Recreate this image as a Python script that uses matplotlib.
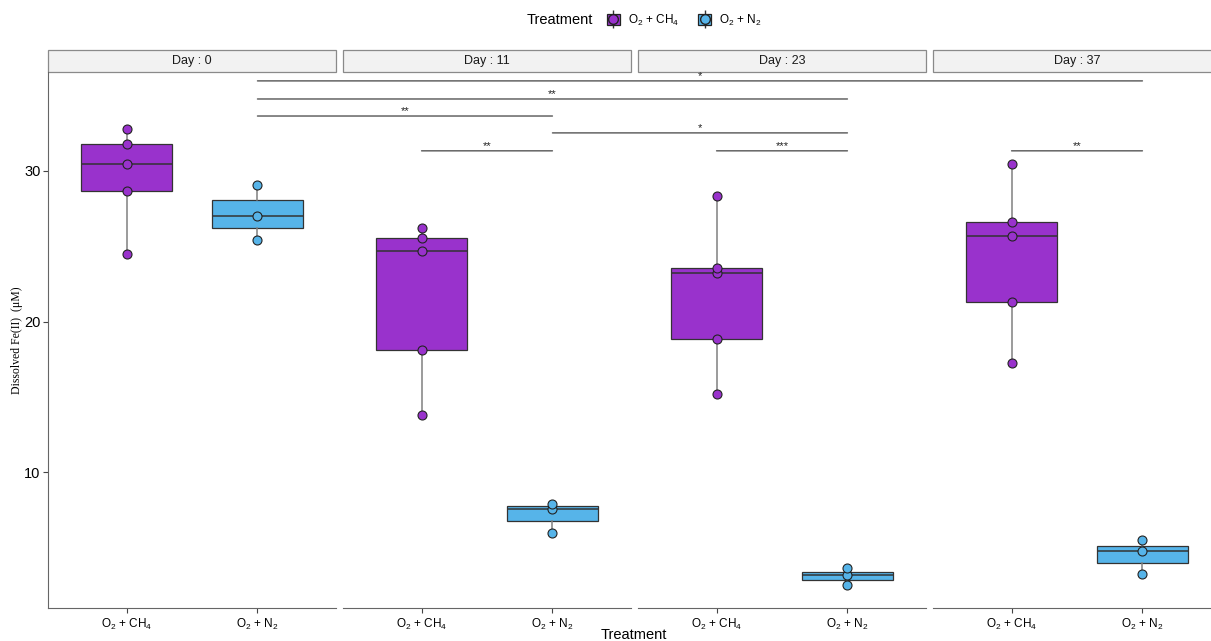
import matplotlib
matplotlib.use("Agg")
import matplotlib.pyplot as plt
from matplotlib.patches import Rectangle, ConnectionPatch, Patch
from matplotlib.lines import Line2D
from matplotlib.legend_handler import HandlerTuple

plt.rcParams['font.family'] = ['Liberation Sans', 'DejaVu Sans']
plt.rcParams['mathtext.fontset'] = 'custom'
plt.rcParams['mathtext.rm'] = 'Liberation Sans'
plt.rcParams['mathtext.it'] = 'Liberation Sans:italic'

# dissolved Fe(II) per incubation day (uM)
days = ["0", "11", "23", "37"]
treatments = [r"O$_2$ + CH$_4$", r"O$_2$ + N$_2$"]
ch4 = [[24.5, 28.67, 30.46, 31.77, 32.76],
       [13.8, 18.12, 24.71, 25.53, 26.23],
       [15.2, 18.85, 23.2, 23.58, 28.36],
       [17.23, 21.32, 25.68, 26.63, 30.44]]
n2 = [[25.42, 27.01, 29.08],
      [5.95, 7.58, 7.9],
      [2.52, 3.19, 3.63],
      [3.23, 4.76, 5.53]]
colors = ["#9932CC", "#56B4E9"]

# significance brackets: (day idx a, group a, day idx b, group b, y, label)
brackets = [(0, 2, 3, 2, 35.97, "*"),
            (0, 2, 2, 2, 34.77, "**"),
            (0, 2, 1, 2, 33.64, "**"),
            (1, 2, 2, 2, 32.52, "*"),
            (1, 1, 1, 2, 31.33, "**"),
            (2, 1, 2, 2, 31.33, "***"),
            (3, 1, 3, 2, 31.33, "**")]

W, H = 1211, 641
fig = plt.figure(figsize=(W / 100, H / 100), dpi=100)

left0, pw, gap = 48, 288, 7
top_px, bot_px = 71.7, 608.3
axes = []
for i, d in enumerate(days):
    x0 = left0 + i * (pw + gap)
    ax = fig.add_axes([x0 / W, 1 - bot_px / H, pw / W, (bot_px - top_px) / H])
    axes.append(ax)
    for j, vals in enumerate([ch4[i], n2[i]]):
        bp = ax.boxplot(vals, positions=[j + 1], widths=0.7, whis=1.5,
                        patch_artist=True, showfliers=False, showcaps=False,
                        boxprops=dict(facecolor=colors[j], edgecolor="#333333", linewidth=0.9),
                        medianprops=dict(color="#333333", linewidth=1.1),
                        whiskerprops=dict(color="#808080", linewidth=1.1))
        bp["boxes"][0].set_zorder(2)
        ax.scatter([j + 1] * len(vals), vals, s=42, color=colors[j],
                   edgecolor="#222222", linewidth=0.8, zorder=3)
    ax.set_xlim(0.4, 2.6)
    ax.set_ylim(0.98, 36.58)
    ax.set_xticks([1, 2])
    ax.set_xticklabels(treatments, fontsize=8.5)
    for s in ["top", "right"]:
        ax.spines[s].set_visible(False)
    ax.spines["bottom"].set_color("#666666")
    ax.spines["left"].set_color("#666666")
    ax.tick_params(axis="x", length=3.5, color="#444444", pad=3)
    ax.tick_params(axis="y", length=3.5, color="#444444", labelsize=10.5, pad=2)
    if i == 0:
        ax.set_yticks([10, 20, 30])
    else:
        ax.spines["left"].set_visible(False)
        ax.set_yticks([])
    # facet strip
    sh = 21.5 / (bot_px - top_px)
    ax.add_patch(Rectangle((0, 1.0), 1, sh, transform=ax.transAxes,
                           facecolor="#F2F2F2", edgecolor="#8A8A8A",
                           linewidth=0.9, clip_on=False))
    ax.text(0.5, 1 + sh / 2, "Day : " + d, transform=ax.transAxes,
            ha="center", va="center", fontsize=9, color="#1A1A1A")

# brackets spanning facets
to_fig = fig.transFigure.inverted()
for da, ga, db, gb, y, lab in brackets:
    con = ConnectionPatch(xyA=(ga, y), coordsA="data", axesA=axes[da],
                          xyB=(gb, y), coordsB="data", axesB=axes[db],
                          color="#555555", linewidth=1.0, clip_on=False)
    fig.add_artist(con)
    pa = to_fig.transform(axes[da].transData.transform((ga, y)))
    pb = to_fig.transform(axes[db].transData.transform((gb, y)))
    fig.text((pa[0] + pb[0]) / 2, pa[1] - 0.5 / H, lab, ha="center",
             va="bottom", fontsize=8, color="#222222")

fig.text(17 / W, 0.5 - 20 / H, "Dissolved Fe(II)  (μM)", rotation=90,
         ha="center", va="center", fontsize=8.5, family="Liberation Serif")
fig.text(634 / W, 1 - 635 / H, "Treatment", ha="center", va="center",
         fontsize=10.5)

# legend
fig.text(593 / W, 1 - 20 / H, "Treatment", ha="right", va="center", fontsize=10.5)
handles = []
for c in colors:
    whisk = Line2D([], [], color="#333333", marker="|", markersize=13,
                   linestyle="none", markeredgewidth=1.0)
    box = Patch(facecolor=c, edgecolor="#222222", linewidth=0.9)
    pt = Line2D([], [], marker="o", markersize=7, markerfacecolor=c,
                markeredgecolor="#222222", linestyle="none")
    handles.append((whisk, box, pt))
fig.legend(handles, treatments, handler_map={tuple: HandlerTuple(ndivide=1)},
           loc="center left", bbox_to_anchor=(607 / W, 1 - 20 / H), ncol=2,
           frameon=False, fontsize=8.5, handlelength=1.1, handleheight=1.1,
           handletextpad=0.7, columnspacing=1.6, borderpad=0, borderaxespad=0)

fig.savefig("out.png", dpi=100)
